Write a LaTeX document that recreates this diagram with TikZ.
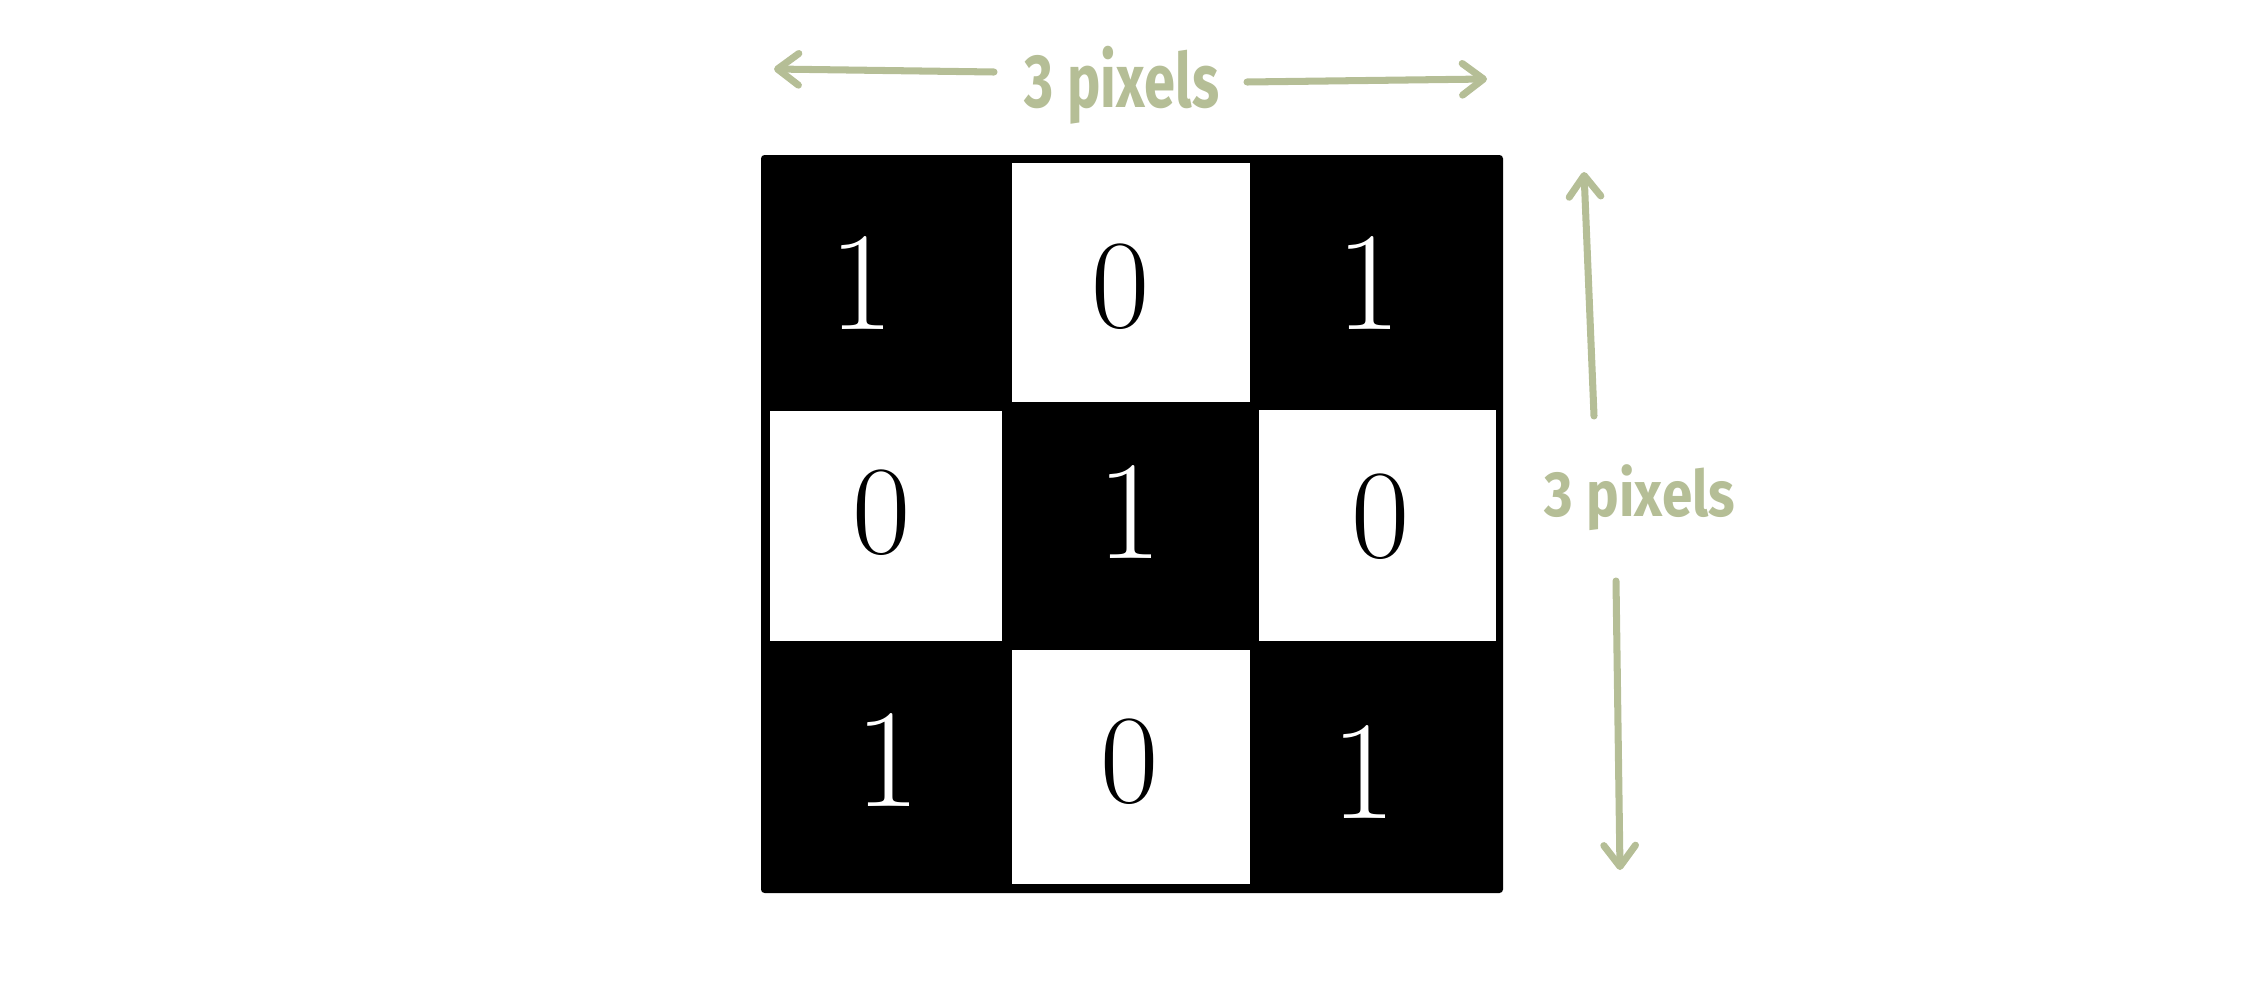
\documentclass[tikz,border=0pt]{standalone}
\usepackage{fontspec}
\newfontfamily\lblfont{Fira Sans}
\usetikzlibrary{arrows.meta}
\definecolor{sage}{RGB}{181,190,150}
\begin{document}
\begin{tikzpicture}[x=0.01cm,y=-0.01cm,
  whitecell/.style={fill=white},
  onedigit/.style={text=white,font=\fontsize{40}{44}\selectfont,inner sep=0pt},
  zerodigit/.style={text=black,font=\fontsize{36}{40}\selectfont,inner sep=0pt},
  dimarrow/.style={draw=sage,line width=2pt,line cap=round,
    -{Straight Barb[length=6pt,width=9pt,line cap=round,line join=round]}},
  dimlabel/.style={text=sage,inner sep=0pt}]
\useasboundingbox (0,0) rectangle (2248,1000);
% grid
\fill[black,rounded corners=1pt] (761,155) rectangle (1503,893);
\fill[whitecell] (1012,163) rectangle (1250,402);
\fill[whitecell] (770,411) rectangle (1002,641);
\fill[whitecell] (1259,410) rectangle (1496,641);
\fill[whitecell] (1012,650) rectangle (1250,884);
% digits
\node[onedigit]  (d11) at (862,283) {1};
\node[zerodigit] (d12) at (1121,287) {0};
\node[onedigit]  (d13) at (1369,283) {1};
\node[zerodigit] (d21) at (882,513) {0};
\node[onedigit]  (d22) at (1130,512) {1};
\node[zerodigit] (d23) at (1381,517) {0};
\node[onedigit]  (d31) at (888,760) {1};
\node[zerodigit] (d32) at (1130,762) {0};
\node[onedigit]  (d33) at (1364,772) {1};
% labels
\node[dimlabel] (top) at (1122,85) {\resizebox*{1.94cm}{0.78cm}{\lblfont\bfseries 3 pixels}};
\node[dimlabel] (side) at (1640,498) {\resizebox*{1.90cm}{0.66cm}{\lblfont\bfseries 3 pixels}};
% arrows
\coordinate (tlA) at (994,72);
\coordinate (tlB) at (774,69);
\coordinate (trA) at (1247,82);
\coordinate (trB) at (1487,79);
\coordinate (upA) at (1594,416);
\coordinate (upB) at (1584,172);
\coordinate (dnA) at (1616,581);
\coordinate (dnB) at (1620,870);
\draw[dimarrow] (tlA) -- (tlB);
\draw[dimarrow] (trA) -- (trB);
\draw[dimarrow] (upA) -- (upB);
\draw[dimarrow] (dnA) -- (dnB);
\end{tikzpicture}
\end{document}
